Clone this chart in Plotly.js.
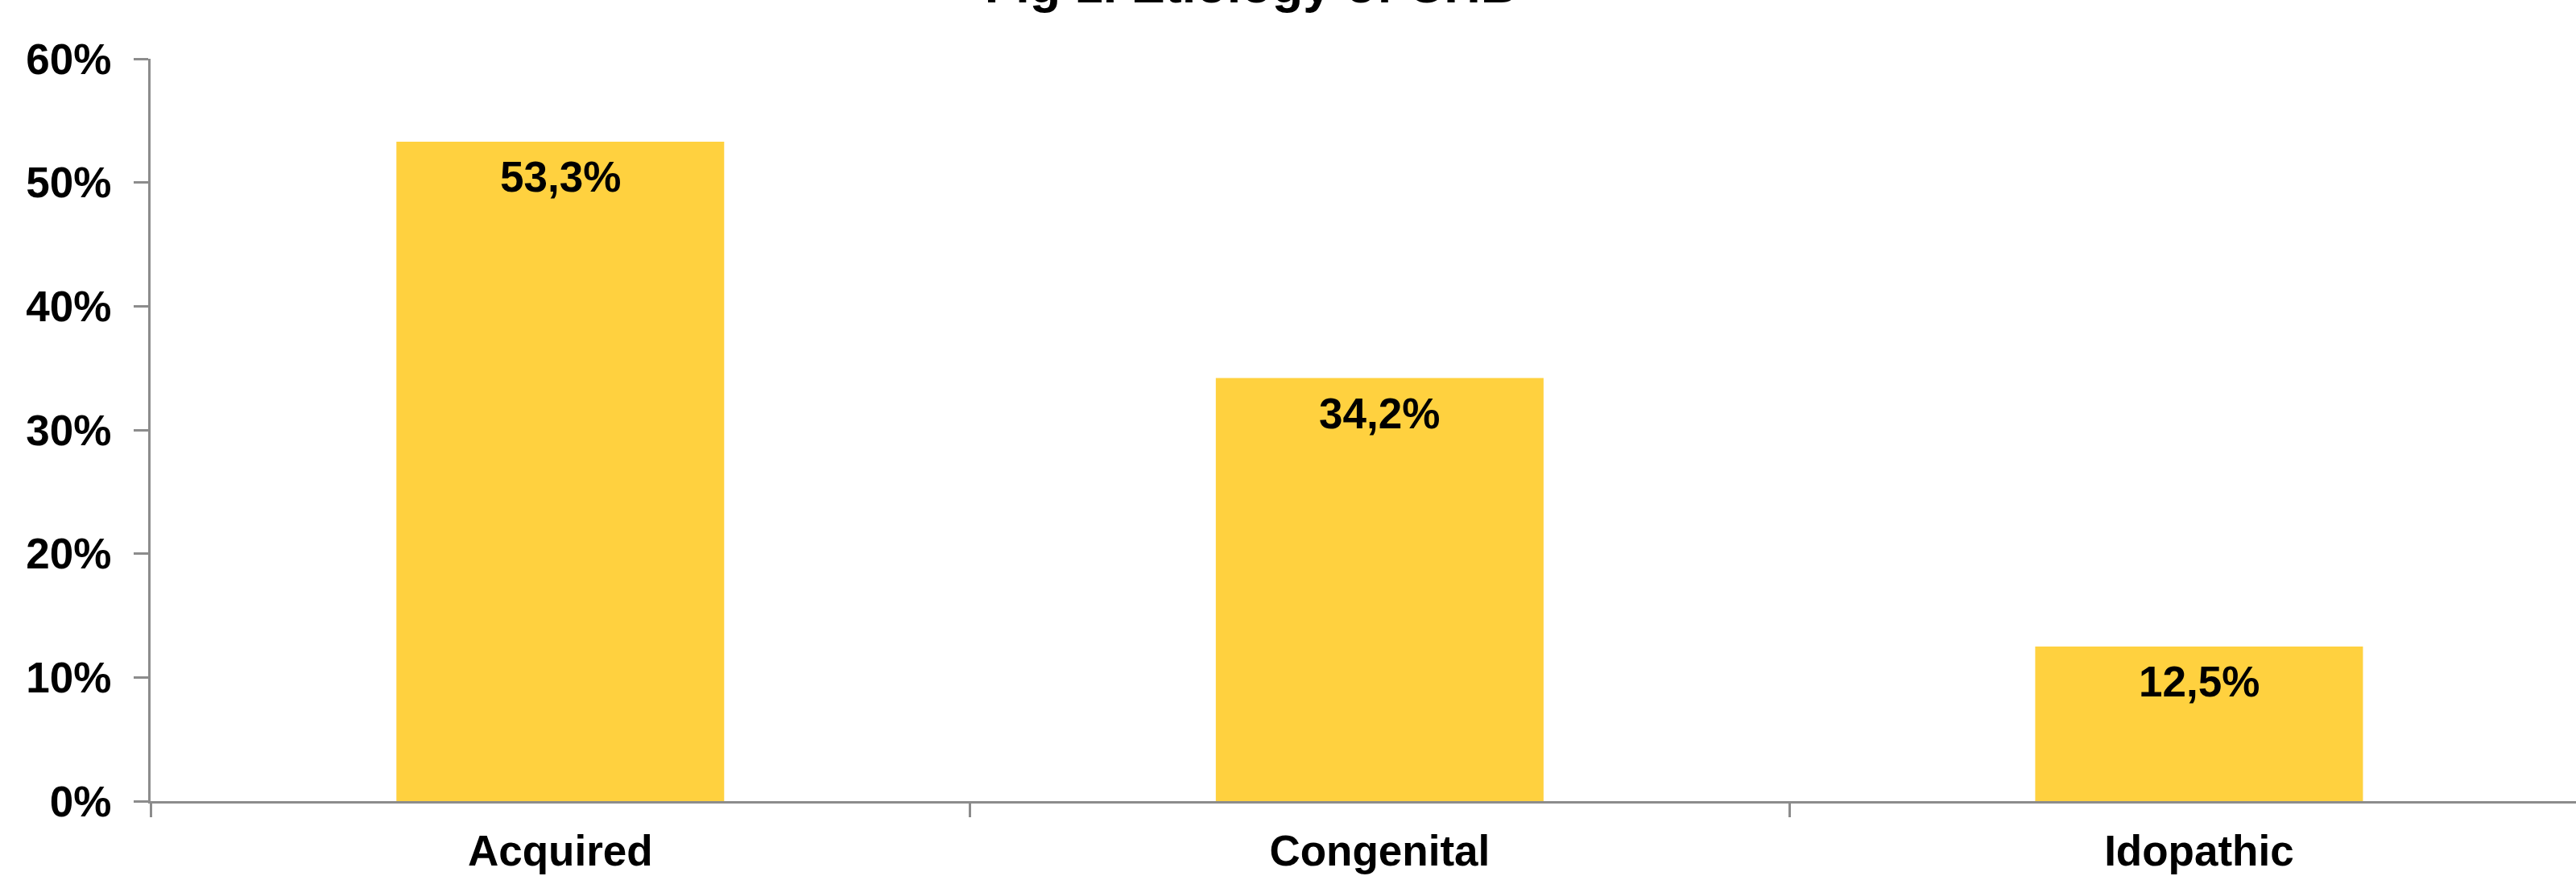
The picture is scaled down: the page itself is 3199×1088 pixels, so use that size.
<!DOCTYPE html>
<html>
<head>
<meta charset="utf-8">
<script src="https://cdn.plot.ly/plotly-3.0.1.min.js"></script>
<style>
html,body{margin:0;padding:0;background:#fff;}
#chart{width:3199px;height:1088px;}
</style>
</head>
<body>
<div id="chart"></div>
<script>
const titleText = "Fig 1. Etiology of CHB";
const categories = ["Acquired", "Congenital", "Idopathic"];
const values = [53.3, 34.2, 12.5];
const yTickVals = [0, 10, 20, 30, 40, 50, 60];
const yTickText = ["0%", "10%", "20%", "30%", "40%", "50%", "60%"];

const FONT = "Liberation Sans, Arial, sans-serif";
const labels = values.map(v => v.toFixed(1).replace(".", ",") + "%");

const trace = {
  type: "bar",
  x: categories,
  y: values,
  width: 0.4,
  marker: {color: "#FFD13F", line: {width: 0}},
  hoverinfo: "none"
};

const annotations = categories.map((c, i) => ({
  x: c, y: values[i], xref: "x", yref: "y",
  text: labels[i], showarrow: false,
  yanchor: "middle", yshift: -44,
  font: {family: FONT, size: 53, color: "#000", weight: "bold"}
}));

const layout = {
  width: 3199, height: 1088,
  margin: {l: 187, r: 0, t: 73, b: 93},
  paper_bgcolor: "#fff", plot_bgcolor: "#fff",
  showlegend: false,
  title: {
    text: "<b>" + titleText + "</b>",
    xref: "container", yref: "container",
    x: 0.4856, xanchor: "center",
    y: 0.9972, yanchor: "bottom",
    font: {family: FONT, size: 63, color: "#000"}
  },
  xaxis: {
    range: [-0.5, 2.46],
    showgrid: false, zeroline: false,
    showline: true, linecolor: "#8c8c8c", linewidth: 3,
    ticks: "outside", tickson: "boundaries", ticklen: 17, tickwidth: 3, tickcolor: "#8c8c8c",
    ticklabelstandoff: 13,
    tickfont: {family: FONT, size: 53, color: "#000", weight: "bold"},
    fixedrange: true
  },
  yaxis: {
    range: [0, 60],
    tickvals: yTickVals, ticktext: yTickText,
    showgrid: false, zeroline: false,
    showline: true, linecolor: "#8c8c8c", linewidth: 3,
    ticks: "outside", ticklen: 18, tickwidth: 3, tickcolor: "#8c8c8c",
    ticklabelstandoff: 17,
    tickfont: {family: FONT, size: 53, color: "#000", weight: "bold"},
    fixedrange: true
  },
  annotations: annotations
};

Plotly.newPlot("chart", [trace], layout, {displayModeBar: false, staticPlot: true});
</script>
</body>
</html>
